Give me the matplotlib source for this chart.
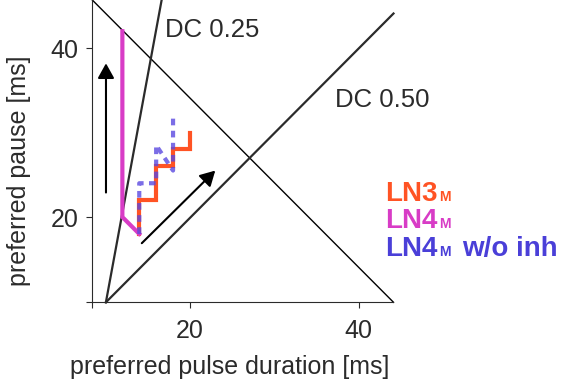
import matplotlib
matplotlib.use("Agg")
import matplotlib.pyplot as plt
from matplotlib.transforms import IdentityTransform

plt.rcParams['font.family'] = ['Liberation Sans', 'DejaVu Sans']

# preferred pulse duration / pause for each model
ln3_dur = [14, 14, 16, 16, 18, 18, 20, 20]
ln3_pause = [18, 22, 22, 26, 26, 28, 28, 30]
ln4_dur = [12, 12, 14]
ln4_pause = [42, 20, 18]
ln4_noinh_dur = [14, 14, 16, 16, 18, 18]
ln4_noinh_pause = [18, 24, 24, 28.5, 25.5, 32]

# reference lines
dc25_x = [10.05, 16.65]
dc25_y = [9.9, 45.7]
dc50_x = [10.05, 44.1]
dc50_y = [9.9, 44.1]
diag_x = [8.44, 44.1]
diag_y = [45.7, 9.9]

xlims = (8.44, 44.1)
ylims = (9.9, 45.7)

W, H = 566, 383
fig = plt.figure(figsize=(W / 100, H / 100), dpi=100)
ax = fig.add_axes([92.3 / W, (H - 302.3) / H, 301.2 / W, 302.3 / H])

dark = '#2b2b2b'
ax.plot(diag_x, diag_y, color='black', lw=1.0, clip_on=False)
ax.plot(dc25_x, dc25_y, color=dark, lw=1.6, clip_on=False)
ax.plot(dc50_x, dc50_y, color=dark, lw=1.6, clip_on=False)

ax.plot(ln3_dur, ln3_pause, color='#ff5324', lw=3.0, solid_joinstyle='miter')
ax.plot(ln4_dur, ln4_pause, color='#d83cc6', lw=3.0, solid_joinstyle='miter')
ax.plot(ln4_noinh_dur, ln4_noinh_pause, color='#5a48e0', lw=3.0, alpha=0.8,
        dashes=(1.6, 1.3), dash_capstyle='butt')

arrow = dict(arrowstyle='-|>,head_length=0.9,head_width=0.5', color='black',
             lw=1.5, shrinkA=0, shrinkB=0, mutation_scale=10)
ax.annotate('', xy=(10.06, 38.2), xytext=(10.06, 22.9), arrowprops=arrow)
ax.annotate('', xy=(23.0, 25.5), xytext=(14.3, 16.9), arrowprops=arrow)

ax.set_xlim(*xlims)
ax.set_ylim(*ylims)
ax.set_xticks([xlims[0], 20, 40])
ax.set_xticklabels(['', '20', '40'])
ax.set_yticks([ylims[0], 20, 40])
ax.set_yticklabels(['', '20', '40'])
ax.tick_params(direction='out', length=4, width=0.8, color=dark,
               labelsize=18, labelcolor=dark)
ax.tick_params(axis='x', pad=8)
ax.tick_params(axis='y', pad=6)
for s in ['top', 'right']:
    ax.spines[s].set_visible(False)
for s in ['left', 'bottom']:
    ax.spines[s].set_color(dark)
    ax.spines[s].set_linewidth(0.8)

fig.text(230 / W, 1 - 367 / H, 'preferred pulse duration [ms]', fontsize=18,
         color=dark, ha='center', va='center')
fig.text(19 / W, 1 - 171 / H, 'preferred pause [ms]', fontsize=18,
         color=dark, ha='center', va='center', rotation=90)

fig.text(165 / W, 1 - 37 / H, 'DC 0.25', fontsize=18.5, color=dark, va='baseline')
fig.text(335 / W, 1 - 107 / H, 'DC 0.50', fontsize=18.5, color=dark, va='baseline')

# legend text with small subscript M
legend_rows = [('LN3', '', '#ff5324', 201),
               ('LN4', '', '#d83cc6', 228),
               ('LN4', 'w/o inh', '#4a3fd8', 256)]
fig.canvas.draw()
r = fig.canvas.get_renderer()
for main, tail, col, base in legend_rows:
    t = fig.text(385, H - base, main, transform=IdentityTransform(),
                 fontsize=20, fontweight='bold', color=col, va='baseline')
    x = t.get_window_extent(r).x1
    m = fig.text(x + 2, H - base, 'M', transform=IdentityTransform(),
                 fontsize=10, fontweight='bold', color=col, va='baseline')
    if tail:
        x = m.get_window_extent(r).x1
        fig.text(x + 11, H - base, tail, transform=IdentityTransform(),
                 fontsize=20, fontweight='bold', color=col, va='baseline')

fig.savefig('out.png', dpi=100)
